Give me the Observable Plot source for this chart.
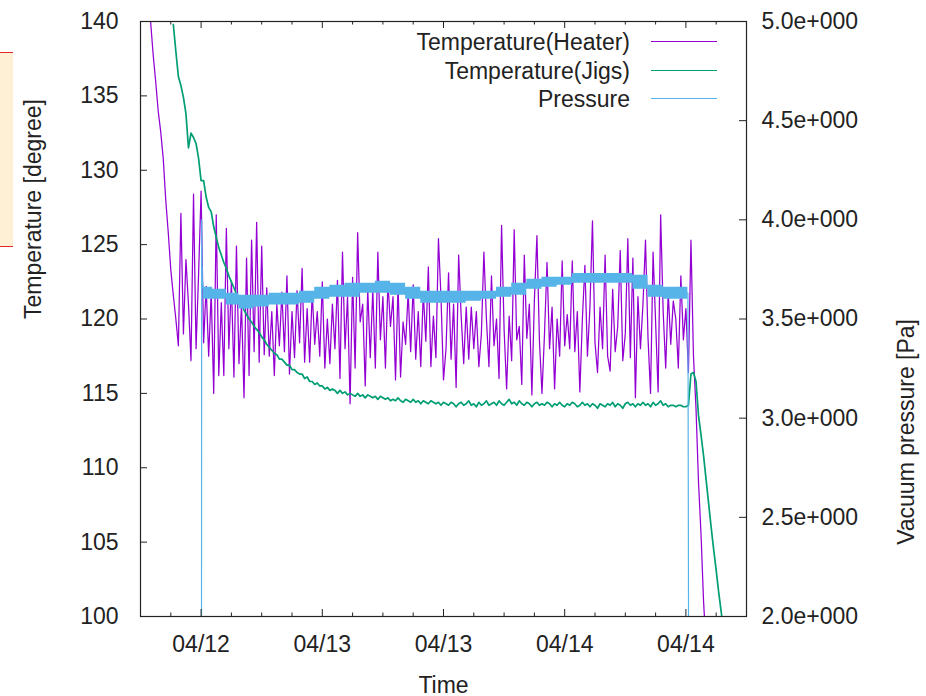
<!DOCTYPE html>
<html>
<head>
<meta charset="utf-8">
<script src="https://cdn.jsdelivr.net/npm/d3@7"></script>
<script src="https://cdn.jsdelivr.net/npm/@observablehq/plot@0.6"></script>
<style>
  html, body { margin: 0; padding: 0; background: #fff; }
  #chart { position: relative; width: 926px; height: 696px; overflow: hidden;
           font-family: "Liberation Sans", Arial, sans-serif; color: #222; }
  #chart svg { position: absolute; left: 0; top: 0; }
  .note { position: absolute; left: -2px; top: 52px; width: 15px; height: 193px;
          background: #fef0d5; border-top: 1.5px solid #e3262a; border-bottom: 1.5px solid #e3262a; }
  .legend-text { position: absolute; right: 296px; font-size: 23px; line-height: 28px;
                 white-space: nowrap; text-align: right; color: #222; }
  .legend-line { position: absolute; left: 651px; width: 66px; height: 0; }
</style>
</head>
<body>
<div id="chart"><div class="note"></div></div>
<script>
// Logger start; all series times are hours after this moment.
const START = new Date(2016, 3, 12, 6, 0);
const at = h => new Date(START.getTime() + h * 3600000);

// Heater temperature [degree], one sample every 15 minutes
const heaterStart = 1.0, heaterStep = 0.25;
const heaterTemps = [
  140.0, 137.8, 136.0, 134.0, 132.6, 130.8, 128.0, 125.8, 123.3, 121.6,
  120.0, 118.2, 127.1, 119.0, 124.0, 121.0, 117.2, 128.4, 118.0, 123.0,
  128.6, 118.4, 122.2, 117.5, 121.8, 115.0, 127.0, 116.2, 121.1, 116.2,
  126.1, 118.0, 122.5, 116.1, 124.9, 117.0, 121.0, 114.7, 124.1, 116.2,
  125.3, 117.8, 126.5, 117.1, 124.9, 117.6, 122.1, 117.5, 120.5, 116.2,
  121.0, 118.2, 121.8, 117.8, 122.9, 116.3, 120.5, 117.4, 121.9, 118.4,
  123.4, 117.1, 120.7, 117.1, 121.8, 118.3, 120.5, 117.5, 122.5, 116.7,
  120.0, 117.0, 121.0, 118.0, 122.6, 116.0, 124.5, 118.0, 121.5, 114.3,
  122.8, 116.7, 125.8, 119.8, 121.0, 115.5, 122.0, 117.4, 122.0, 116.7,
  124.5, 118.6, 121.5, 116.7, 122.5, 119.5, 121.5, 115.9, 122.3, 116.1,
  119.8, 118.3, 121.8, 117.8, 122.3, 117.3, 120.5, 116.8, 121.8, 118.5,
  123.5, 116.8, 120.2, 117.4, 125.4, 121.5, 115.9, 118.0, 123.1, 117.3,
  121.0, 115.4, 124.3, 120.2, 117.0, 120.8, 117.3, 120.8, 118.0, 120.5,
  116.8, 119.0, 124.5, 120.0, 116.8, 122.9, 118.2, 120.0, 116.0, 126.3,
  119.3, 115.3, 120.2, 117.2, 126.0, 118.6, 119.5, 115.6, 124.3, 118.7,
  121.0, 114.9, 121.3, 125.6, 118.5, 115.0, 119.0, 123.8, 118.0, 120.8,
  115.3, 120.0, 117.5, 123.9, 118.2, 120.3, 118.0, 123.9, 117.8, 120.5,
  115.1, 120.0, 123.6, 117.5, 120.8, 126.6, 118.4, 116.4, 120.8, 118.0,
  124.3, 117.5, 116.5, 122.0, 117.8, 119.5, 124.6, 117.2, 119.0, 125.4,
  117.4, 124.1, 114.7, 121.5, 118.0, 121.0, 125.3, 118.7, 115.0, 124.5,
  119.8, 115.1, 127.0, 120.5, 116.7, 121.8, 118.3, 121.2, 120.0, 116.7,
  122.9, 118.6, 120.7, 116.4, 125.3, 117.5, 114.0, 109.0, 105.5, 101.0, 98.0
];

// Jig temperature [degree], one sample every 15 minutes
const jigsStart = 3.25, jigsStep = 0.25;
const jigsTemps = [
  139.8, 138.0, 136.3, 135.7, 134.9, 133.8, 131.5, 132.5, 132.2, 131.8,
  130.8, 129.3, 129.3, 128.2, 127.5, 127.2, 126.2, 125.5, 124.8, 124.3,
  123.8, 123.4, 122.9, 122.5, 122.1, 121.7, 121.4, 121.0, 120.6, 120.3,
  120.0, 119.8, 119.5, 119.3, 119.1, 118.8, 118.6, 118.3, 118.1, 117.9,
  117.7, 117.6, 117.3, 117.3, 117.1, 116.9, 116.9, 116.6, 116.6, 116.4,
  116.3, 116.3, 116.0, 116.1, 115.8, 115.8, 115.6, 115.7, 115.5, 115.5,
  115.3, 115.4, 115.2, 115.3, 115.2, 115.0, 115.2,
  115.0, 115.1, 114.9, 115.0, 114.9, 114.8, 115.0, 114.8, 114.9, 114.7,
  114.9, 114.8, 114.7, 114.8, 114.6, 114.8, 114.7, 114.6, 114.7, 114.5,
  114.6, 114.5, 114.7, 114.5, 114.4, 114.6, 114.5, 114.4, 114.6, 114.4,
  114.5, 114.3, 114.5, 114.4, 114.3, 114.5, 114.4, 114.3, 114.4, 114.2,
  114.4, 114.3, 114.2, 114.4, 114.3, 114.1, 114.3, 114.4, 114.2, 114.3,
  114.5, 114.2, 114.3, 114.1, 114.4, 114.2, 114.3, 114.5, 114.2, 114.3,
  114.4, 114.2, 114.5, 114.3, 114.2, 114.4, 114.6, 114.3, 114.4, 114.2,
  114.5, 114.3, 114.2, 114.4, 114.3, 114.1, 114.3, 114.4, 114.2, 114.3,
  114.2, 114.4, 114.3, 114.1, 114.3, 114.2, 114.4, 114.2, 114.1, 114.3,
  114.2, 114.4, 114.3, 114.1, 114.2, 114.4, 114.2, 114.3, 114.1, 114.3,
  114.2, 114.0, 114.3, 114.2, 114.1, 114.3, 114.2, 114.4, 114.1, 114.3,
  114.2, 114.0, 114.3, 114.4, 114.2, 114.3, 114.1, 114.3, 114.2, 114.4,
  114.2, 114.3, 114.1, 114.4, 114.2, 114.3, 114.5, 114.2, 114.3, 114.1,
  114.2, 114.2, 114.1, 114.2, 114.2, 114.1, 114.1, 114.2,
  116.3, 116.4, 115.8, 113.5, 112.2, 110.8, 109.2, 107.6, 106.0, 104.5,
  103.1, 101.6, 100.3, 98.8
];

// Vacuum pressure [Pa]: fluctuation band while pumping
const pressureBandHours = [6.1, 6.3, 8.0, 9.0, 10.5, 12.0, 13.5, 15.0, 16.5, 18.0,
  19.5, 21.0, 22.5, 24.0, 25.5, 27.0, 28.5, 30.0, 31.5, 33.0, 34.5, 36.0, 37.5,
  39.0, 40.5, 42.0, 43.5, 45.0, 46.5, 48.0, 49.5, 51.0, 52.5, 54.2];
const pressureBandLow = [3.65, 3.60, 3.60, 3.57, 3.55, 3.56, 3.57, 3.57, 3.58, 3.60,
  3.61, 3.61, 3.63, 3.63, 3.62, 3.60, 3.58, 3.58, 3.58, 3.59, 3.60, 3.61, 3.62,
  3.65, 3.66, 3.67, 3.68, 3.68, 3.68, 3.68, 3.65, 3.61, 3.60, 3.60];
const pressureBandHigh = [3.76, 3.66, 3.65, 3.63, 3.62, 3.62, 3.63, 3.63, 3.64, 3.66,
  3.67, 3.68, 3.68, 3.69, 3.68, 3.66, 3.64, 3.64, 3.64, 3.64, 3.64, 3.66, 3.68,
  3.70, 3.71, 3.71, 3.73, 3.73, 3.73, 3.73, 3.72, 3.67, 3.66, 3.66];
// Gauge switching on and off
const pressureRiseHours = [6.04, 6.06], pressureRiseValues = [2.0, 4.0];
const pressureFallHours = [54.26], pressureFallValues = [2.0];

// Axes
const tempTicks = [100, 105, 110, 115, 120, 125, 130, 135, 140];
const pressureTicks = [2.0, 2.5, 3.0, 3.5, 4.0, 4.5, 5.0];
const pressureRange = [2.0, 5.0];
const tempRange = [100, 140];
const majorTickHours = [6, 18, 30, 42, 54];
const minorTickHours = [3, 9, 12, 15, 21, 24, 27, 33, 36, 39, 45, 48, 51, 57];
const timeRangeHours = [0, 60];

const seriesNames = ["Temperature(Heater)", "Temperature(Jigs)", "Pressure"];
const seriesColors = ["#9400d3", "#009e73", "#56b4e9"];
const axisTitles = {x: "Time", y: "Temperature [degree]", y2: "Vacuum pressure [Pa]"};

// Pressure is drawn on the temperature scale, mapped onto the right-hand axis
const pToT = p => tempRange[0] + (p - pressureRange[0]) *
  (tempRange[1] - tempRange[0]) / (pressureRange[1] - pressureRange[0]);
const tToP = t => pressureRange[0] + (t - tempRange[0]) *
  (pressureRange[1] - pressureRange[0]) / (tempRange[1] - tempRange[0]);
const fmtP = p => {
  const [m, e] = (Math.round(p * 10) / 10).toExponential(1).split("e");
  return m + "e" + e[0] + e.slice(1).padStart(3, "0");
};

const heater = heaterTemps.map((t, i) => ({date: at(heaterStart + i * heaterStep), t}));
const jigs = jigsTemps.map((t, i) => ({date: at(jigsStart + i * jigsStep), t}));
const band = pressureBandHours.map((h, i) => ({date: at(h), lo: pToT(pressureBandLow[i]), hi: pToT(pressureBandHigh[i])}));
const pressureLine = [
  ...pressureRiseHours.map((h, i) => ({date: at(h), t: pToT(pressureRiseValues[i])})),
  ...pressureBandHours.map((h, i) => ({date: at(h), t: pToT((pressureBandLow[i] + pressureBandHigh[i]) / 2)})),
  ...pressureFallHours.map((h, i) => ({date: at(h), t: pToT(pressureFallValues[i])}))
];

const W = 926, H = 696, mL = 140, mR = 180, mT = 21, mB = 80;
const innerW = W - mL - mR, innerH = H - mT - mB;
const majorLen = 7, minorLen = 3.5;

const svg = Plot.plot({
  width: W, height: H,
  marginLeft: mL, marginRight: mR, marginTop: mT, marginBottom: mB,
  style: {fontFamily: '"Liberation Sans", Arial, sans-serif', fontSize: "23px", color: "#222", background: "transparent", overflow: "visible"},
  x: {type: "time", domain: timeRangeHours.map(at)},
  y: {domain: tempRange},
  marks: [
    Plot.lineY(heater, {x: "date", y: "t", stroke: seriesColors[0], strokeWidth: 1.25, clip: true}),
    Plot.lineY(jigs, {x: "date", y: "t", stroke: seriesColors[1], strokeWidth: 1.7, clip: true}),
    Plot.areaY(band, {x: "date", y1: "lo", y2: "hi", curve: "step", fill: seriesColors[2], clip: true}),
    Plot.lineY(pressureLine, {x: "date", y: "t", stroke: seriesColors[2], strokeWidth: 1.2, clip: true}),
    // inward tick marks
    Plot.tickY(tempTicks, {y: d => d, insetRight: innerW - majorLen, stroke: "#222"}),
    Plot.tickY(pressureTicks.map(pToT), {y: d => d, insetLeft: innerW - majorLen, stroke: "#222"}),
    Plot.tickX(majorTickHours.map(at), {x: d => d, insetTop: innerH - majorLen, stroke: "#222"}),
    Plot.tickX(majorTickHours.map(at), {x: d => d, insetBottom: innerH - majorLen, stroke: "#222"}),
    Plot.tickX(minorTickHours.map(at), {x: d => d, insetTop: innerH - minorLen, stroke: "#222"}),
    Plot.tickX(minorTickHours.map(at), {x: d => d, insetBottom: innerH - minorLen, stroke: "#222"}),
    Plot.frame({stroke: "#222", strokeWidth: 1.2}),
    Plot.axisY({ticks: tempTicks, tickSize: 0, tickPadding: 22, label: null}),
    Plot.axisY({anchor: "right", ticks: pressureTicks.map(pToT), tickFormat: t => fmtP(tToP(t)), tickSize: 0, tickPadding: 15, label: null}),
    Plot.axisX({ticks: majorTickHours.map(at), tickFormat: d3.timeFormat("%m/%d"), tickSize: 0, tickPadding: 19, label: null}),
    Plot.text([axisTitles.y], {frameAnchor: "left", dx: -107, rotate: -90, text: d => d}),
    Plot.text([axisTitles.y2], {frameAnchor: "right", dx: 160, rotate: -90, text: d => d}),
    Plot.text([axisTitles.x], {frameAnchor: "bottom", dy: 76, text: d => d})
  ]
});

const chart = document.getElementById("chart");
chart.insertBefore(svg, chart.firstChild);

// Key in the upper right of the plot area
const legendRows = [42, 70.5, 98.5];
seriesNames.forEach((name, i) => {
  const t = document.createElement("div");
  t.className = "legend-text";
  t.style.top = (legendRows[i] - 14) + "px";
  t.textContent = name;
  chart.appendChild(t);
  const l = document.createElement("div");
  l.className = "legend-line";
  l.style.top = (legendRows[i] - 0.75) + "px";
  l.style.borderTop = "1.5px solid " + seriesColors[i];
  chart.appendChild(l);
});
</script>
</body>
</html>
